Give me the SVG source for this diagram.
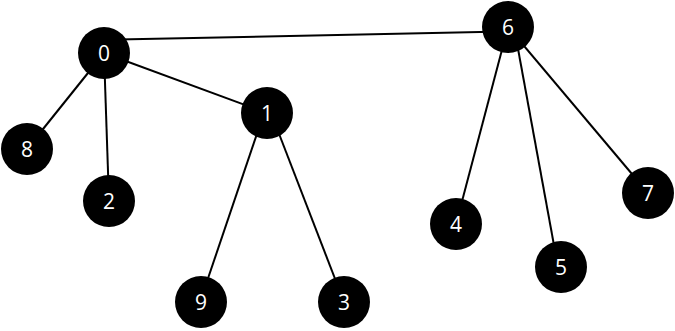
<svg xmlns="http://www.w3.org/2000/svg" width="675" height="331" viewBox="0 0 675 331">
<style>
.e{stroke:#000;stroke-width:2;fill:none}
.n circle{fill:#000}
.n text{fill:#fff;font-family:"Open Sans","Noto Sans",sans-serif;font-size:21px;text-anchor:middle}
</style>
<rect width="675" height="331" fill="#fff"/>
<g id="edges">
<line class="e" x1="118" y1="39.6" x2="492" y2="31.8"/>
<line class="e" x1="104" y1="53" x2="267" y2="113"/>
<line class="e" x1="104" y1="53" x2="27" y2="149"/>
<line class="e" x1="104" y1="53" x2="109" y2="201"/>
<line class="e" x1="264" y1="113" x2="200" y2="302"/>
<line class="e" x1="271" y1="113" x2="344" y2="302"/>
<line class="e" x1="508" y1="27" x2="456" y2="224"/>
<line class="e" x1="514" y1="27" x2="558" y2="267"/>
<line class="e" x1="508" y1="27" x2="648" y2="193"/>
</g>
<g id="node0" class="n"><circle cx="104" cy="53" r="26"/><text x="104" y="61">0</text></g>
<g id="node1" class="n"><circle cx="267" cy="113" r="26"/><text x="267" y="121">1</text></g>
<g id="node2" class="n"><circle cx="109" cy="201" r="26"/><text x="109" y="209">2</text></g>
<g id="node3" class="n"><circle cx="344" cy="302" r="26"/><text x="344" y="310">3</text></g>
<g id="node4" class="n"><circle cx="456" cy="224" r="26"/><text x="456" y="232">4</text></g>
<g id="node5" class="n"><circle cx="561" cy="267" r="26"/><text x="561" y="275">5</text></g>
<g id="node6" class="n"><circle cx="508" cy="27" r="26"/><text x="508" y="35">6</text></g>
<g id="node7" class="n"><circle cx="648" cy="193" r="26"/><text x="648" y="201">7</text></g>
<g id="node8" class="n"><circle cx="27" cy="149" r="26"/><text x="27" y="157">8</text></g>
<g id="node9" class="n"><circle cx="201" cy="302" r="26"/><text x="201" y="310">9</text></g>
</svg>
